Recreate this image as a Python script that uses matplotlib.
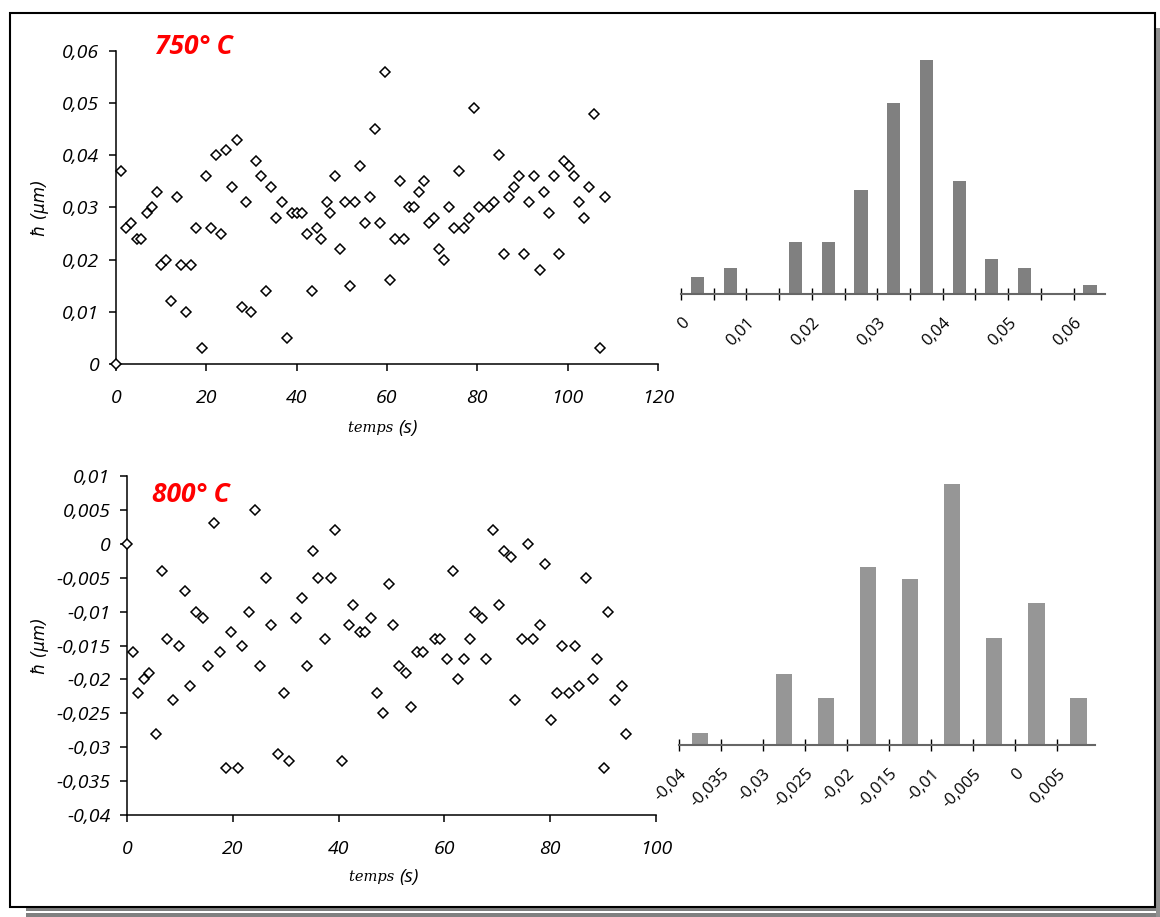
import numpy as np
import matplotlib
matplotlib.use('Agg')
import matplotlib.pyplot as plt
from matplotlib.patches import Rectangle

# --- 750 C : h vs time ---
t_750 = [0, 1.2, 2.2, 3.4, 4.6, 5.6, 6.8, 7.9, 9.0, 10.0,
         11.1, 12.2, 13.4, 14.4, 15.5, 16.7, 17.8, 19.0, 20.0, 21.1,
         22.2, 23.3, 24.4, 25.6, 26.7, 27.8, 28.8, 30.0, 31.0, 32.2,
         33.3, 34.4, 35.5, 36.7, 37.8, 38.9, 40.0, 41.1, 42.2, 43.3,
         44.4, 45.5, 46.7, 47.4, 48.5, 49.6, 50.7, 51.8, 52.9, 54.1,
         55.2, 56.3, 57.3, 58.4, 59.6, 60.7, 61.7, 62.8,
         63.7, 64.8, 65.9, 67.1, 68.2, 69.3, 70.4, 71.5, 72.6, 73.7,
         74.8, 75.9, 77.0, 78.1, 79.3, 80.4, 82.6, 83.7, 84.8, 85.9,
         87.1, 88.2, 89.3, 90.4, 91.5, 92.6, 93.8, 94.8, 95.9, 97.0,
         98.1, 99.3, 100.4, 101.5, 102.6, 103.7, 104.8, 105.9, 107.1, 108.2]
h_750 = [0, 0.037, 0.026, 0.027, 0.024, 0.024, 0.029, 0.030, 0.033, 0.019,
         0.020, 0.012, 0.032, 0.019, 0.010, 0.019, 0.026, 0.003, 0.036, 0.026,
         0.040, 0.025, 0.041, 0.034, 0.043, 0.011, 0.031, 0.010, 0.039, 0.036,
         0.014, 0.034, 0.028, 0.031, 0.005, 0.029, 0.029, 0.029, 0.025, 0.014,
         0.026, 0.024, 0.031, 0.029, 0.036, 0.022, 0.031, 0.015, 0.031, 0.038,
         0.027, 0.032, 0.045, 0.027, 0.056, 0.016, 0.024, 0.035,
         0.024, 0.030, 0.030, 0.033, 0.035, 0.027, 0.028, 0.022, 0.020, 0.030,
         0.026, 0.037, 0.026, 0.028, 0.049, 0.030, 0.030, 0.031, 0.040, 0.021,
         0.032, 0.034, 0.036, 0.021, 0.031, 0.036, 0.018, 0.033, 0.029, 0.036,
         0.021, 0.039, 0.038, 0.036, 0.031, 0.028, 0.034, 0.048, 0.003, 0.032]

# --- 800 C : h vs time ---
t_800 = [0, 1.1, 2.1, 3.2, 4.2, 5.4, 6.6, 7.5, 8.7, 9.9,
         10.9, 12.0, 13.0, 14.3, 15.4, 16.4, 17.5, 18.7, 19.7, 20.9,
         21.8, 23.0, 24.2, 25.2, 26.3, 27.3, 28.5, 29.6, 30.7, 31.9,
         33.0, 34.0, 35.1, 36.1, 37.4, 38.6, 39.4, 40.7, 41.9, 42.8,
         44.0, 45.0, 46.2, 47.2, 48.3, 49.5, 50.3, 51.4,
         52.7, 53.7, 54.9, 56.0, 58.2, 59.1, 60.4, 61.6, 62.5, 63.7,
         64.9, 65.8, 67.1, 67.9, 69.2, 70.3, 71.3, 72.5, 73.4, 74.7,
         75.8, 76.7, 78.0, 79.1, 80.1, 81.3, 82.2, 83.5, 84.7, 85.5,
         86.8, 88.0, 88.9, 90.1, 91.0, 92.2, 93.5, 94.3]
h_800 = [0, -0.016, -0.022, -0.020, -0.019, -0.028, -0.004, -0.014, -0.023, -0.015,
         -0.007, -0.021, -0.010, -0.011, -0.018, 0.003, -0.016, -0.033, -0.013, -0.033,
         -0.015, -0.010, 0.005, -0.018, -0.005, -0.012, -0.031, -0.022, -0.032, -0.011,
         -0.008, -0.018, -0.001, -0.005, -0.014, -0.005, 0.002, -0.032, -0.012, -0.009,
         -0.013, -0.013, -0.011, -0.022, -0.025, -0.006, -0.012, -0.018,
         -0.019, -0.024, -0.016, -0.016, -0.014, -0.014, -0.017, -0.004, -0.020, -0.017,
         -0.014, -0.010, -0.011, -0.017, 0.002, -0.009, -0.001, -0.002, -0.023, -0.014,
         0.000, -0.014, -0.012, -0.003, -0.026, -0.022, -0.015, -0.022, -0.015, -0.021,
         -0.005, -0.020, -0.017, -0.033, -0.010, -0.023, -0.021, -0.028]

# --- histograms (bin width 0.005) ---
bins_750 = [0, 0.005, 0.01, 0.015, 0.02, 0.025, 0.03, 0.035, 0.04, 0.045, 0.05, 0.055, 0.06]
counts_750 = [2, 3, 0, 6, 6, 12, 22, 27, 13, 4, 3, 0, 1]
bins_800 = [-0.04, -0.035, -0.03, -0.025, -0.02, -0.015, -0.01, -0.005, 0, 0.005]
counts_800 = [1, 0, 6, 4, 15, 14, 22, 9, 12, 4]

yticks_750 = [0, 0.01, 0.02, 0.03, 0.04, 0.05, 0.06]
ylabels_750 = ['0', '0,01', '0,02', '0,03', '0,04', '0,05', '0,06']
yticks_800 = [0.01, 0.005, 0, -0.005, -0.01, -0.015, -0.02, -0.025, -0.03, -0.035, -0.04]
ylabels_800 = ['0,01', '0,005', '0', '-0,005', '-0,01', '-0,015', '-0,02',
               '-0,025', '-0,03', '-0,035', '-0,04']
hlabels_750 = ['0', '', '0,01', '', '0,02', '', '0,03', '', '0,04', '', '0,05', '', '0,06']
hlabels_800 = ['-0,04', '-0,035', '-0,03', '-0,025', '-0,02', '-0,015', '-0,01',
               '-0,005', '0', '0,005']

TICKFONT = dict(family='Open Sans', style='italic', size=14)

fig = plt.figure(figsize=(11.6, 9.17), dpi=100)


def scatter_panel(rect, t, h, xmax, ylim, yt, ylab, title, title_xy, xlab_xy, ylab_x):
    ax = fig.add_axes(rect)
    ax.plot(t, h, linestyle='none', marker='D', markersize=5.2,
            markerfacecolor='white', markeredgecolor='black', markeredgewidth=1.1,
            clip_on=False, zorder=3)
    ax.set_xlim(0, xmax)
    ax.set_ylim(*ylim)
    ax.set_xticks(range(0, xmax + 1, 20))
    ax.set_xticklabels([str(v) for v in range(0, xmax + 1, 20)], **TICKFONT)
    ax.set_yticks(yt)
    ax.set_yticklabels(ylab, **TICKFONT)
    for s in ['top', 'right']:
        ax.spines[s].set_visible(False)
    for s in ['left', 'bottom']:
        ax.spines[s].set_linewidth(1.1)
    ax.tick_params(direction='out', length=5, width=1.1)
    ax.tick_params(axis='y', pad=7)
    ax.tick_params(axis='x', pad=13)
    ax.text(title_xy[0], title_xy[1], title, transform=ax.transAxes, color='red',
            fontsize=19, fontweight='bold', style='italic', family='Open Sans',
            va='center', ha='left')
    ax.text(xlab_xy[0], xlab_xy[1], 'temps ', transform=ax.transAxes, ha='right', va='center',
            family='DejaVu Serif', style='italic', fontsize=10.5)
    ax.text(xlab_xy[0], xlab_xy[1], '(s)', transform=ax.transAxes, ha='left', va='center',
            family='Open Sans', style='italic', fontsize=14)
    ax.text(ylab_x, 0.5, 'ħ (µm)', transform=ax.transAxes, rotation=90,
            ha='center', va='center', family='DejaVu Sans', style='italic', fontsize=12)
    return ax


def hist_panel(rect, bins, counts, xlim, ymax, labels, color):
    ax = fig.add_axes(rect)
    width = bins[1] - bins[0]
    centers = [b + width / 2 for b in bins]
    ax.bar(centers, counts, width=width * 0.4, color=color)
    ax.set_xlim(*xlim)
    ax.set_ylim(0, ymax)
    ax.set_xticks(bins)
    ax.set_xticklabels(labels, rotation=45, ha='right', rotation_mode='anchor',
                       family='Open Sans', fontsize=12)
    for s in ['top', 'right', 'left']:
        ax.spines[s].set_visible(False)
    ax.spines['bottom'].set_color('#666666')
    ax.spines['bottom'].set_linewidth(1.5)
    ax.set_yticks([])
    ax.tick_params(axis='x', direction='inout', length=8, width=1, pad=11)
    return ax


scatter_panel([0.1, 0.6031, 0.4672, 0.3413], t_750, h_750, 120, (0, 0.06),
              yticks_750, ylabels_750, '750° C', (0.072, 1.013), (0.52, -0.204), -0.14)
scatter_panel([0.1095, 0.1112, 0.456, 0.3697], t_800, h_800, 100, (-0.04, 0.01),
              yticks_800, ylabels_800, '800° C', (0.047, 0.944), (0.514, -0.183), -0.164)

hist_panel([0.5871, 0.6794, 0.3655, 0.2574], bins_750, counts_750, (0, 0.0648),
           27.2, hlabels_750, '#808080')
hist_panel([0.5853, 0.1876, 0.3586, 0.2868], bins_800, counts_800, (-0.04, 0.0095),
           22.17, hlabels_800, '#969696')

# frame with shadow
W, H = 1160.0, 917.0
fig.add_artist(Rectangle((26 / W, 0), (1160 - 26) / W, 4 / H, transform=fig.transFigure,
                         facecolor='#808080', edgecolor='none'))
fig.add_artist(Rectangle((26 / W, 6 / H), (1160 - 26) / W, 4 / H, transform=fig.transFigure,
                         facecolor='#808080', edgecolor='none'))
fig.add_artist(Rectangle((1156 / W, 0), 4 / W, (917 - 28) / H, transform=fig.transFigure,
                         facecolor='#909090', edgecolor='none'))
fig.add_artist(Rectangle((10 / W, 1 - 907 / H), 1145 / W, 894 / H, transform=fig.transFigure,
                         facecolor='none', edgecolor='black', linewidth=1.5))

fig.savefig('out.png', dpi=100)
